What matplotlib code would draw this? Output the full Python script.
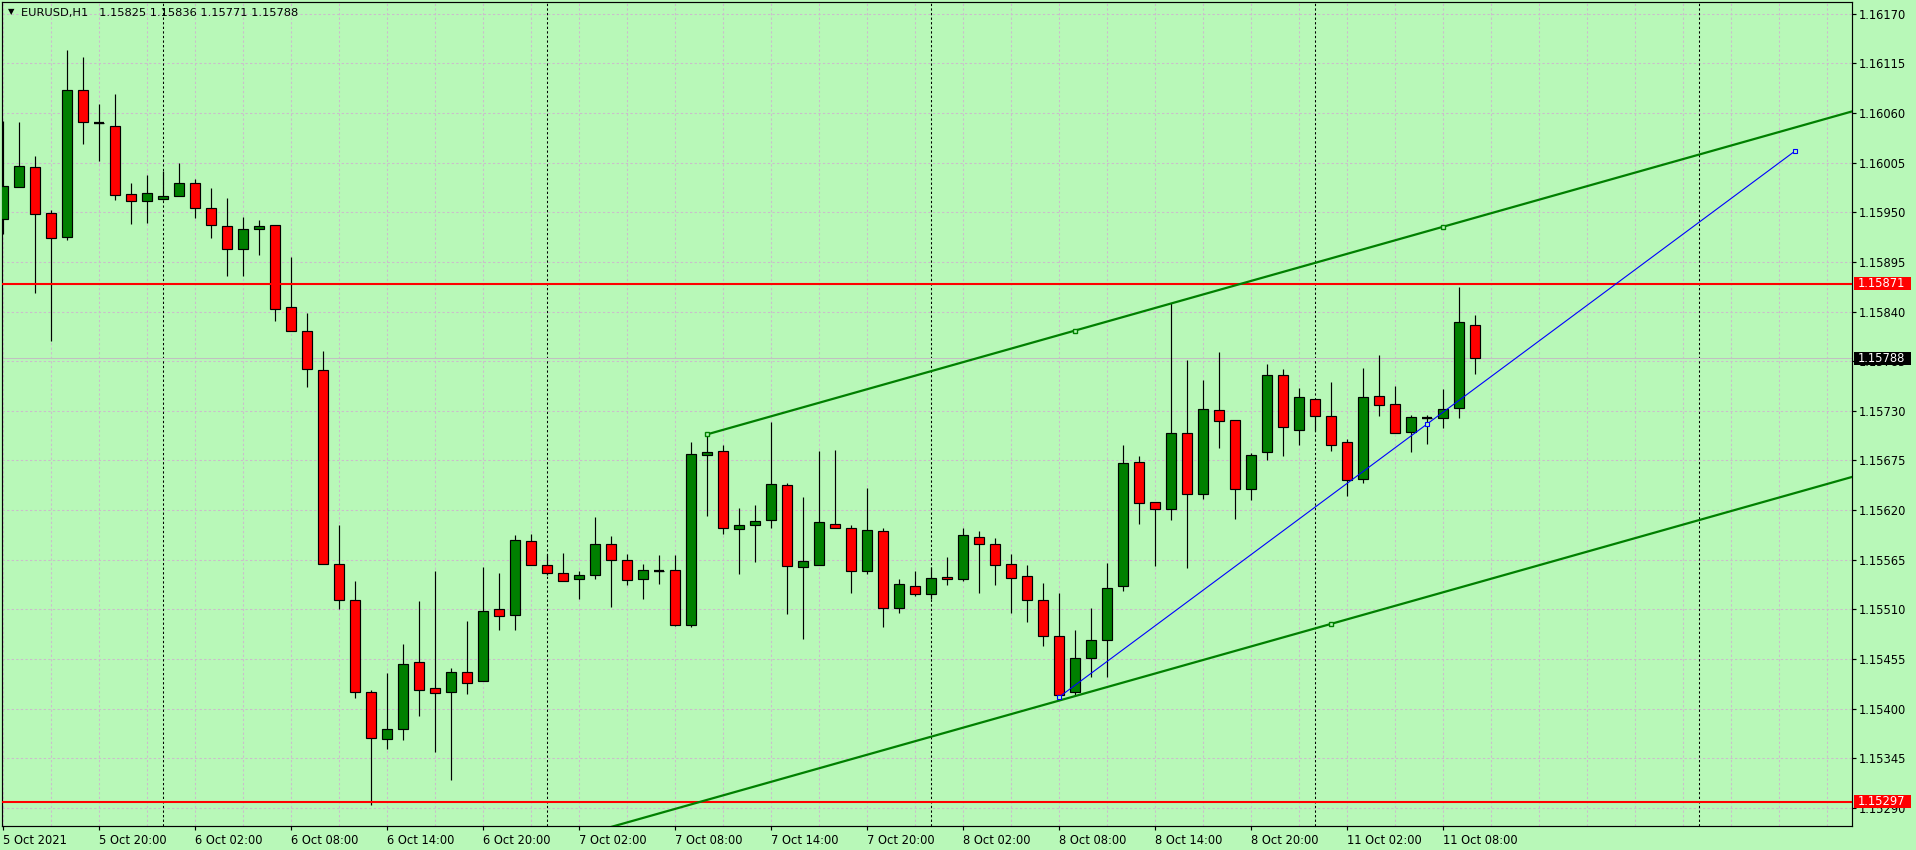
import numpy as np
import matplotlib.pyplot as plt
import matplotlib.transforms as mtrans
from matplotlib.patches import Rectangle

# EURUSD H1 bars, first bar = 5 Oct 2021 14:00
symbol = "EURUSD,H1"
opens = [1.15943, 1.15978, 1.16000, 1.15949, 1.15923, 1.16086, 1.16049, 1.16046, 1.15970, 1.15962,
         1.15965, 1.15968, 1.15983, 1.15955, 1.15935, 1.15909, 1.15931, 1.15936, 1.15845, 1.15819,
         1.15775, 1.15560, 1.15520, 1.15418, 1.15366, 1.15378, 1.15452, 1.15423, 1.15418, 1.15441,
         1.15431, 1.15510, 1.15504, 1.15586, 1.15559, 1.15550, 1.15544, 1.15548, 1.15582, 1.15565,
         1.15544, 1.15553, 1.15554, 1.15493, 1.15681, 1.15686, 1.15599, 1.15603, 1.15609, 1.15648,
         1.15557, 1.15559, 1.15605, 1.15600, 1.15553, 1.15597, 1.15512, 1.15536, 1.15527, 1.15546,
         1.15544, 1.15590, 1.15583, 1.15560, 1.15547, 1.15520, 1.15481, 1.15419, 1.15456, 1.15476,
         1.15536, 1.15673, 1.15629, 1.15621, 1.15706, 1.15638, 1.15731, 1.15720, 1.15643, 1.15684,
         1.15770, 1.15709, 1.15743, 1.15724, 1.15695, 1.15654, 1.15746, 1.15738, 1.15707, 1.15722,
         1.15722, 1.15733, 1.15825]
highs = [1.16051, 1.16050, 1.16012, 1.15953, 1.16130, 1.16122, 1.16070, 1.16081, 1.15982, 1.15991,
         1.15996, 1.16005, 1.15987, 1.15977, 1.15966, 1.15945, 1.15941, 1.15936, 1.15900, 1.15838,
         1.15796, 1.15604, 1.15542, 1.15421, 1.15439, 1.15472, 1.15519, 1.15552, 1.15445, 1.15497,
         1.15557, 1.15550, 1.15592, 1.15594, 1.15571, 1.15572, 1.15553, 1.15612, 1.15591, 1.15571,
         1.15560, 1.15570, 1.15570, 1.15696, 1.15704, 1.15692, 1.15622, 1.15626, 1.15718, 1.15650,
         1.15634, 1.15686, 1.15687, 1.15604, 1.15645, 1.15600, 1.15544, 1.15553, 1.15557, 1.15568,
         1.15600, 1.15597, 1.15589, 1.15571, 1.15559, 1.15539, 1.15528, 1.15487, 1.15511, 1.15561,
         1.15692, 1.15680, 1.15629, 1.15850, 1.15786, 1.15764, 1.15795, 1.15720, 1.15683, 1.15782,
         1.15776, 1.15755, 1.15743, 1.15762, 1.15699, 1.15777, 1.15792, 1.15757, 1.15725, 1.15725,
         1.15754, 1.15867, 1.15836]
lows = [1.15926, 1.15978, 1.15861, 1.15807, 1.15919, 1.16026, 1.16007, 1.15964, 1.15937, 1.15938,
        1.15964, 1.15968, 1.15944, 1.15921, 1.15879, 1.15879, 1.15903, 1.15829, 1.15818, 1.15756,
        1.15560, 1.15510, 1.15412, 1.15293, 1.15355, 1.15365, 1.15392, 1.15352, 1.15321, 1.15416,
        1.15431, 1.15487, 1.15487, 1.15559, 1.15548, 1.15542, 1.15521, 1.15544, 1.15513, 1.15537,
        1.15522, 1.15538, 1.15492, 1.15490, 1.15614, 1.15593, 1.15549, 1.15563, 1.15600, 1.15505,
        1.15477, 1.15559, 1.15600, 1.15528, 1.15549, 1.15490, 1.15506, 1.15525, 1.15521, 1.15537,
        1.15542, 1.15528, 1.15537, 1.15506, 1.15496, 1.15469, 1.15413, 1.15415, 1.15435, 1.15435,
        1.15530, 1.15605, 1.15558, 1.15609, 1.15556, 1.15632, 1.15689, 1.15610, 1.15631, 1.15676,
        1.15680, 1.15692, 1.15708, 1.15686, 1.15636, 1.15650, 1.15724, 1.15706, 1.15684, 1.15693,
        1.15711, 1.15722, 1.15771]
closes = [1.15979, 1.16001, 1.15948, 1.15921, 1.16086, 1.16050, 1.16049, 1.15969, 1.15962, 1.15971,
          1.15968, 1.15982, 1.15955, 1.15936, 1.15909, 1.15931, 1.15935, 1.15843, 1.15818, 1.15776,
          1.15560, 1.15520, 1.15418, 1.15368, 1.15378, 1.15449, 1.15421, 1.15417, 1.15441, 1.15428,
          1.15508, 1.15503, 1.15587, 1.15559, 1.15550, 1.15542, 1.15548, 1.15583, 1.15565, 1.15543,
          1.15554, 1.15553, 1.15493, 1.15682, 1.15684, 1.15600, 1.15603, 1.15608, 1.15649, 1.15558,
          1.15564, 1.15607, 1.15600, 1.15553, 1.15598, 1.15512, 1.15538, 1.15527, 1.15545, 1.15544,
          1.15592, 1.15582, 1.15559, 1.15545, 1.15520, 1.15480, 1.15415, 1.15456, 1.15476, 1.15534,
          1.15672, 1.15628, 1.15621, 1.15705, 1.15638, 1.15732, 1.15719, 1.15643, 1.15681, 1.15770,
          1.15712, 1.15745, 1.15724, 1.15692, 1.15653, 1.15745, 1.15737, 1.15706, 1.15723, 1.15722,
          1.15732, 1.15828, 1.15788]

tick_bars = [0, 6, 12, 18, 24, 30, 36, 42, 48, 54, 60, 66, 72, 78, 84, 90]
tick_labels = ["5 Oct 2021", "5 Oct 20:00", "6 Oct 02:00", "6 Oct 08:00", "6 Oct 14:00",
               "6 Oct 20:00", "7 Oct 02:00", "7 Oct 08:00", "7 Oct 14:00", "7 Oct 20:00",
               "8 Oct 02:00", "8 Oct 08:00", "8 Oct 14:00", "8 Oct 20:00", "11 Oct 02:00",
               "11 Oct 08:00"]
day_breaks = [10, 34, 58, 82, 106]
price_ticks = [1.15290, 1.15345, 1.15400, 1.15455, 1.15510, 1.15565, 1.15620, 1.15675, 1.15730,
               1.15785, 1.15840, 1.15895, 1.15950, 1.16005, 1.16060, 1.16115, 1.16170]
red_levels = [1.15871, 1.15297]

# drawn objects
chan_bars = [44, 90]
chan_prices = [1.15704, 1.15934]
chan_third = (83, 1.15494)
trend_bars = [66, 112]
trend_prices = [1.15413, 1.16018]

bg = "#b8f8b8"
bull = "#008000"
bear = "#ff0000"
gridc = "#cbbccb"
fs = 8.3

W, H = 1916, 850
fig = plt.figure(figsize=(W / 100, H / 100), dpi=100, facecolor=bg)
ax = fig.add_axes([2 / W, (H - 826) / H, 1850 / W, 824 / H])
ax.set_facecolor(bg)
ax.set_xlim(-0.08, 115.55)
ax.set_ylim(1.15270, 1.16183)

# grid
for p in price_ticks:
    ax.axhline(p, color=gridc, lw=0.75, dashes=(2.2, 2.2), zorder=1)
for b in range(0, 116, 3):
    ax.axvline(b, color=gridc, lw=0.75, dashes=(2.2, 2.2), zorder=1)
for b in day_breaks:
    ax.axvline(b, color="black", lw=0.75, dashes=(2.2, 2.2), zorder=1.5)

# bid line
ax.axhline(closes[-1], color="#c0c0c0", lw=0.75, zorder=1.6)

# candles
o = np.array(opens)
h = np.array(highs)
l = np.array(lows)
c = np.array(closes)
idx = np.arange(len(o))
up = c >= o
ax.vlines(idx, l, h, color="black", lw=0.85, zorder=3)
body = np.abs(c - o)
ax.bar(idx, body, bottom=np.minimum(o, c), width=0.6,
       color=np.where(up, bull, bear), edgecolor="black", lw=0.85, zorder=4)
doji = body == 0
ax.hlines(o[doji], idx[doji] - 0.32, idx[doji] + 0.32, color="black", lw=1.6, zorder=4.5)

# horizontal levels
for p in red_levels:
    ax.axhline(p, color="red", lw=1.5, zorder=5)

# channel
slope = (chan_prices[1] - chan_prices[0]) / (chan_bars[1] - chan_bars[0])
xr = np.array([chan_bars[0], 116])
ax.plot(xr, chan_prices[0] + slope * (xr - chan_bars[0]), color=bull, lw=1.6, zorder=5)
xl = np.array([20, 116])
ax.plot(xl, chan_third[1] + slope * (xl - chan_third[0]), color=bull, lw=1.6, zorder=5)
mid = (chan_bars[0] + chan_bars[1]) / 2
mx = [chan_bars[0], mid, chan_bars[1]]
my = [chan_prices[0], chan_prices[0] + slope * (mid - chan_bars[0]), chan_prices[1]]
ax.plot(mx, my, ls="none", marker="s", ms=3.5, mfc=bg, mec=bull, mew=1, zorder=6)
ax.plot([chan_third[0]], [chan_third[1]], ls="none", marker="s", ms=3.5, mfc=bg, mec=bull,
        mew=1, zorder=6)

# trend line
ax.plot(trend_bars, trend_prices, color="blue", lw=0.8, zorder=5)
tmid = (trend_bars[0] + trend_bars[1]) / 2
ax.plot([trend_bars[0], tmid, trend_bars[1]],
        [trend_prices[0], np.mean(trend_prices), trend_prices[1]],
        ls="none", marker="s", ms=3.5, mfc=bg, mec="blue", mew=0.8, zorder=6)

# axes styling
for s in ax.spines.values():
    s.set_color("black")
    s.set_linewidth(0.85)
ax.yaxis.tick_right()
ax.set_yticks(price_ticks)
ax.set_yticklabels([f"{p:.5f}" for p in price_ticks])
ax.set_xticks(tick_bars)
ax.set_xticklabels(tick_labels)
for t in ax.get_xticklabels():
    t.set_ha("left")
ax.tick_params(axis="y", length=3, width=0.85, pad=2.2, labelsize=fs, colors="black")
ax.tick_params(axis="x", length=3, width=0.85, pad=2.5, labelsize=fs, colors="black")

# price tags on the right scale
blend = mtrans.blended_transform_factory(fig.transFigure, ax.transData)


def tag(price, fc):
    ax.add_patch(Rectangle((1854 / W, price - 0.000076), 57 / W, 0.000152, transform=blend,
                           fc=fc, ec="none", clip_on=False, zorder=10))
    ax.text(1858 / W, price, f"{price:.5f}", transform=blend, color="white", fontsize=fs,
            va="center", ha="left", clip_on=False, zorder=11)


for p in red_levels:
    tag(p, "red")
tag(closes[-1], "black")

# header
fig.text(11 / W, 1 - 12 / H, "\u25bc", fontsize=6, ha="center", va="center")
fig.text(21 / W, 1 - 13 / H,
         f"{symbol}   {opens[-1]:.5f} {highs[-1]:.5f} {lows[-1]:.5f} {closes[-1]:.5f}",
         fontsize=8.2, va="center", ha="left")

fig.savefig("out.png", dpi=100, facecolor=bg)
